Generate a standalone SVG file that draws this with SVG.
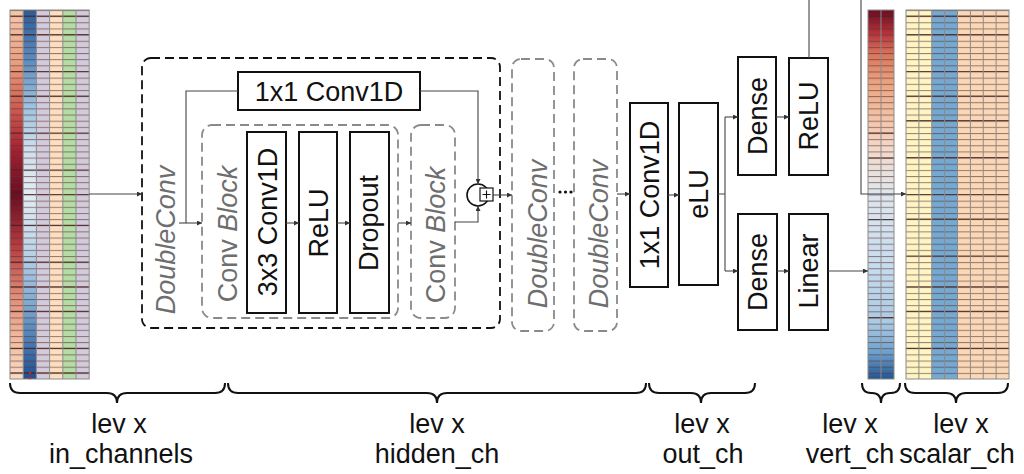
<svg xmlns="http://www.w3.org/2000/svg" width="1024" height="474" viewBox="0 0 1024 474">
<style>
  .box{fill:#fff;stroke:#111;stroke-width:2}
  .lbl{font-family:"Liberation Sans",Arial,sans-serif;font-size:27px;fill:#111;text-anchor:middle}
  .glbl{font-family:"Liberation Sans",Arial,sans-serif;font-size:27px;fill:#6e6e6e;text-anchor:middle}
  .it{font-style:italic}
  .dc{fill:none;stroke:#111;stroke-width:1.8;stroke-dasharray:9 5}
  .gd{fill:none;stroke:#8a8a8a;stroke-width:1.8;stroke-dasharray:9 5}
  .con{fill:none;stroke:#444;stroke-width:1.1}
  .arr{marker-end:url(#ah)}
  .col{stroke:#8a8a8a;stroke-width:1}
  .dark{stroke:#4a2020;stroke-width:1.2;stroke-opacity:0.8}
  .brace{fill:none;stroke:#111;stroke-width:2}
  .bl{font-family:"Liberation Sans",Arial,sans-serif;font-size:27px;fill:#111;text-anchor:middle}
</style>
<defs>
  <marker id="ah" viewBox="0 0 6 6" refX="6" refY="3" markerWidth="5" markerHeight="5" markerUnits="userSpaceOnUse" orient="auto">
    <path d="M0,0 L6,3 L0,6 z" fill="#333"/>
  </marker>
  <pattern id="rows" patternUnits="userSpaceOnUse" x="0" y="10" width="20" height="6.15">
    <rect x="0" y="0" width="20" height="1" fill="#5e3030" fill-opacity="0.6"/>
  </pattern>
  <linearGradient id="gRed" x1="0" y1="0" x2="0" y2="1">
    <stop offset="0" stop-color="#f4c9ae"/>
    <stop offset="0.14" stop-color="#e8a180"/>
    <stop offset="0.27" stop-color="#cc5a50"/>
    <stop offset="0.38" stop-color="#a32232"/>
    <stop offset="0.5" stop-color="#690c22"/>
    <stop offset="0.63" stop-color="#b2393e"/>
    <stop offset="0.78" stop-color="#e0907a"/>
    <stop offset="0.9" stop-color="#f1bea2"/>
    <stop offset="1" stop-color="#f7dac6"/>
  </linearGradient>
  <linearGradient id="gBlue" x1="0" y1="0" x2="0" y2="1">
    <stop offset="0" stop-color="#2b5c9a"/>
    <stop offset="0.14" stop-color="#5b8fc3"/>
    <stop offset="0.26" stop-color="#9cc3e0"/>
    <stop offset="0.38" stop-color="#cfdfee"/>
    <stop offset="0.5" stop-color="#e2ebf3"/>
    <stop offset="0.65" stop-color="#bcd5ea"/>
    <stop offset="0.8" stop-color="#7aa9d2"/>
    <stop offset="0.92" stop-color="#3f72ae"/>
    <stop offset="1" stop-color="#1f4f8c"/>
  </linearGradient>
  <linearGradient id="gRdBu" x1="0" y1="0" x2="0" y2="1">
    <stop offset="0" stop-color="#6a0c22"/>
    <stop offset="0.06" stop-color="#b2303a"/>
    <stop offset="0.12" stop-color="#d8765c"/>
    <stop offset="0.2" stop-color="#eba582"/>
    <stop offset="0.3" stop-color="#f3c6ab"/>
    <stop offset="0.38" stop-color="#f1dacb"/>
    <stop offset="0.44" stop-color="#e8e2de"/>
    <stop offset="0.5" stop-color="#dde7ef"/>
    <stop offset="0.7" stop-color="#c6dbee"/>
    <stop offset="0.85" stop-color="#a9cae4"/>
    <stop offset="0.93" stop-color="#6aa0cd"/>
    <stop offset="1" stop-color="#24558f"/>
  </linearGradient>
</defs>
<rect width="1024" height="474" fill="#fff"/>

<!-- input tensor -->
<g id="input-tensor">
  <rect x="10" y="10" width="13.2" height="369" fill="url(#gRed)"/>
  <rect x="23.2" y="10" width="13.2" height="369" fill="url(#gBlue)"/>
  <rect x="36.4" y="10" width="13.2" height="369" fill="#d2cbdc"/>
  <rect x="49.6" y="10" width="13.2" height="369" fill="#fcdfc1"/>
  <rect x="62.8" y="10" width="13.2" height="369" fill="#b4dca5"/>
  <rect x="76" y="10" width="13.2" height="369" fill="#d2cbdc"/>
  <rect x="10" y="10" width="79.2" height="369" fill="url(#rows)"/>
  <g class="dark">
    <line x1="10" y1="16.2" x2="89.2" y2="16.2"/>
    <line x1="10" y1="34.6" x2="89.2" y2="34.6"/>
    <line x1="10" y1="71.5" x2="89.2" y2="71.5"/>
    <line x1="10" y1="96.1" x2="89.2" y2="96.1"/>
    <line x1="10" y1="133" x2="89.2" y2="133"/>
    <line x1="10" y1="170" x2="89.2" y2="170"/>
    <line x1="10" y1="194.5" x2="89.2" y2="194.5"/>
    <line x1="10" y1="225.3" x2="89.2" y2="225.3"/>
    <line x1="10" y1="262.2" x2="89.2" y2="262.2"/>
    <line x1="10" y1="286.8" x2="89.2" y2="286.8"/>
    <line x1="10" y1="311.4" x2="89.2" y2="311.4"/>
    <line x1="10" y1="348.3" x2="89.2" y2="348.3"/>
    <line x1="10" y1="372.9" x2="89.2" y2="372.9"/>
  </g>
  <g class="col">
    <line x1="23.2" y1="10" x2="23.2" y2="379"/>
    <line x1="36.4" y1="10" x2="36.4" y2="379"/>
    <line x1="49.6" y1="10" x2="49.6" y2="379"/>
    <line x1="62.8" y1="10" x2="62.8" y2="379"/>
    <line x1="76" y1="10" x2="76" y2="379"/>
  </g>
  <rect x="10" y="10" width="79.2" height="369" fill="none" stroke="#8a8a8a" stroke-width="1"/>
  <circle cx="30" cy="373" r="1.2" fill="#d0202a"/>
  <circle cx="30" cy="378" r="1.2" fill="#d0202a"/>
</g>

<!-- DoubleConv 1 -->
<g id="doubleconv-1">
  <rect class="dc" x="142" y="58" width="358" height="270" rx="9"/>
  <text class="glbl it" transform="translate(175,240) rotate(-90)">DoubleConv</text>
</g>
<g id="conv1x1-skip">
  <rect class="box" x="238" y="72" width="182" height="38"/>
  <text class="lbl" x="329" y="100.5">1x1 Conv1D</text>
</g>
<g id="convblock-1">
  <rect class="gd" x="202" y="125" width="196" height="193" rx="10"/>
  <text class="glbl" transform="translate(237,234) rotate(-90)">Conv <tspan class="it">Block</tspan></text>
</g>
<g id="conv3x3">
  <rect class="box" x="247" y="132" width="39" height="181"/>
  <text class="lbl" transform="translate(277,222) rotate(-90)">3x3 Conv1D</text>
</g>
<g id="relu-1">
  <rect class="box" x="299" y="132" width="38" height="181"/>
  <text class="lbl" transform="translate(328,223) rotate(-90)">ReLU</text>
</g>
<g id="dropout">
  <rect class="box" x="350" y="132" width="39" height="181"/>
  <text class="lbl" transform="translate(378,223) rotate(-90)">Dropout</text>
</g>
<g id="convblock-2">
  <rect class="gd" x="411" y="125" width="44" height="193" rx="10"/>
  <text class="glbl" transform="translate(445,235) rotate(-90)">Conv <tspan class="it">Block</tspan></text>
</g>
<g id="add">
  <circle cx="478" cy="195" r="11" fill="#fff" stroke="#111" stroke-width="1.6"/>
  <rect x="480" y="188" width="13" height="13" fill="#fff" stroke="#111" stroke-width="1.2"/>
  <path d="M482.5,194.5 H490.5 M486.5,190.5 V198.5" stroke="#111" stroke-width="1.1"/>
</g>

<g id="doubleconv-2">
  <rect class="gd" x="512" y="59" width="42" height="272" rx="9"/>
  <text class="glbl it" transform="translate(547,234) rotate(-90)">DoubleConv</text>
</g>
<g id="ellipsis">
  <circle cx="560" cy="192" r="1.6" fill="#111"/>
  <circle cx="565.5" cy="192" r="1.6" fill="#111"/>
  <circle cx="571" cy="192" r="1.6" fill="#111"/>
</g>
<g id="doubleconv-3">
  <rect class="gd" x="574" y="59" width="43" height="272" rx="9"/>
  <text class="glbl it" transform="translate(608,234) rotate(-90)">DoubleConv</text>
</g>

<g id="conv1x1-out">
  <rect class="box" x="630" y="103" width="38" height="184"/>
  <text class="lbl" transform="translate(659,195) rotate(-90)">1x1 Conv1D</text>
</g>
<g id="elu">
  <rect class="box" x="679" y="103" width="39" height="182"/>
  <text class="lbl" transform="translate(708,194) rotate(-90)">eLU</text>
</g>
<g id="dense-top">
  <rect class="box" x="738" y="57" width="38" height="118"/>
  <text class="lbl" transform="translate(767,116) rotate(-90)">Dense</text>
</g>
<g id="relu-top">
  <rect class="box" x="789" y="58" width="39" height="117"/>
  <text class="lbl" transform="translate(818,116) rotate(-90)">ReLU</text>
</g>
<g id="dense-bottom">
  <rect class="box" x="738" y="214" width="39" height="116"/>
  <text class="lbl" transform="translate(767,272) rotate(-90)">Dense</text>
</g>
<g id="linear">
  <rect class="box" x="789" y="214" width="39" height="116"/>
  <text class="lbl" transform="translate(818,271) rotate(-90)">Linear</text>
</g>

<!-- vertical output tensor -->
<g id="vert-tensor">
  <rect x="868" y="10" width="26" height="369" fill="url(#gRdBu)"/>
  <rect x="868" y="10" width="26" height="369" fill="url(#rows)"/>
  <g class="dark">
    <line x1="868" y1="16.2" x2="894" y2="16.2"/>
    <line x1="868" y1="133" x2="894" y2="133"/>
    <line x1="868" y1="158" x2="894" y2="158"/>
    <line x1="868" y1="219.6" x2="894" y2="219.6"/>
    <line x1="868" y1="317.6" x2="894" y2="317.6"/>
  </g>
  <line class="col" x1="881" y1="10" x2="881" y2="379"/>
  <rect x="868" y="10" width="26" height="369" fill="none" stroke="#8a8a8a" stroke-width="1"/>
</g>

<!-- scalar output tensor -->
<g id="scalar-tensor">
  <rect x="906" y="10" width="25.75" height="369" fill="#fdf5c4"/>
  <rect x="931.75" y="10" width="25.75" height="369" fill="#74a9d1"/>
  <rect x="957.5" y="10" width="51.5" height="369" fill="#f9d8b8"/>
  <rect x="906" y="10" width="103" height="369" fill="url(#rows)"/>
  <g class="dark">
    <line x1="906" y1="16.2" x2="1009" y2="16.2"/>
    <line x1="906" y1="34.6" x2="1009" y2="34.6"/>
    <line x1="906" y1="71.5" x2="1009" y2="71.5"/>
    <line x1="906" y1="96.1" x2="1009" y2="96.1"/>
    <line x1="906" y1="120.7" x2="1009" y2="120.7"/>
    <line x1="906" y1="157.6" x2="1009" y2="157.6"/>
    <line x1="906" y1="194.5" x2="1009" y2="194.5"/>
    <line x1="906" y1="219.1" x2="1009" y2="219.1"/>
    <line x1="906" y1="256" x2="1009" y2="256"/>
    <line x1="906" y1="286.8" x2="1009" y2="286.8"/>
    <line x1="906" y1="311.4" x2="1009" y2="311.4"/>
    <line x1="906" y1="348.3" x2="1009" y2="348.3"/>
  </g>
  <g class="col">
    <line x1="918.9" y1="10" x2="918.9" y2="379"/>
    <line x1="931.75" y1="10" x2="931.75" y2="379"/>
    <line x1="944.6" y1="10" x2="944.6" y2="379"/>
    <line x1="957.5" y1="10" x2="957.5" y2="379"/>
    <line x1="970.4" y1="10" x2="970.4" y2="379"/>
    <line x1="983.25" y1="10" x2="983.25" y2="379"/>
    <line x1="996.1" y1="10" x2="996.1" y2="379"/>
  </g>
  <rect x="906" y="10" width="103" height="369" fill="none" stroke="#8a8a8a" stroke-width="1"/>
</g>

<!-- connectors -->
<g id="connectors">
  <path class="con arr" d="M89,194 H142"/>
  <path class="con arr" d="M179,223 H202"/>
  <path class="con" d="M186,223 V91 H238"/>
  <path class="con arr" d="M286,223 H299"/>
  <path class="con arr" d="M337,223 H350"/>
  <path class="con arr" d="M398,223 H411"/>
  <path class="con arr" d="M420,91 H478 V184"/>
  <path class="con arr" d="M455,222 H478 V206"/>
  <path class="con arr" d="M493,195 H512"/>
  <path class="con arr" d="M617,194 H630"/>
  <path class="con arr" d="M668,195 H679"/>
  <path class="con" d="M718,194 H725 M725,117 V271"/>
  <path class="con arr" d="M725,117 H738"/>
  <path class="con arr" d="M725,271 H738"/>
  <path class="con arr" d="M776,117 H789"/>
  <path class="con arr" d="M777,271 H789"/>
  <path class="con" d="M809,58 V0"/>
  <path class="con arr" d="M861,0 V194 H906"/>
  <path class="con arr" d="M828,271 H868"/>
</g>

<!-- braces and labels -->
<g id="braces">
  <path class="brace" d="M10,383 q0,10 10,10 H107 q10,0 10,10 q0,-10 10,-10 H215 q10,0 10,-10"/>
  <path class="brace" d="M228,383 q0,10 10,10 H427 q10,0 10,10 q0,-10 10,-10 H636 q10,0 10,-10"/>
  <path class="brace" d="M649,383 q0,10 10,10 H691 q10,0 10,10 q0,-10 10,-10 H745 q10,0 10,-10"/>
  <path class="brace" d="M862,383 q0,10 9,10 H872 q9,0 9,10 q0,-10 9,-10 H891 q9,0 9,-10"/>
  <path class="brace" d="M905,383 q0,10 10,10 H946 q10,0 10,10 q0,-10 10,-10 H998 q10,0 10,-10"/>
</g>
<g id="labels">
  <text class="bl" x="119" y="433">lev x</text>
  <text class="bl" x="121" y="463">in_channels</text>
  <text class="bl" x="437" y="433">lev x</text>
  <text class="bl" x="437" y="463">hidden_ch</text>
  <text class="bl" x="702" y="433">lev x</text>
  <text class="bl" x="703" y="463">out_ch</text>
  <text class="bl" x="850" y="433">lev x</text>
  <text class="bl" x="850" y="463">vert_ch</text>
  <text class="bl" x="961" y="433">lev x</text>
  <text class="bl" x="957" y="463">scalar_ch</text>
</g>
</svg>
